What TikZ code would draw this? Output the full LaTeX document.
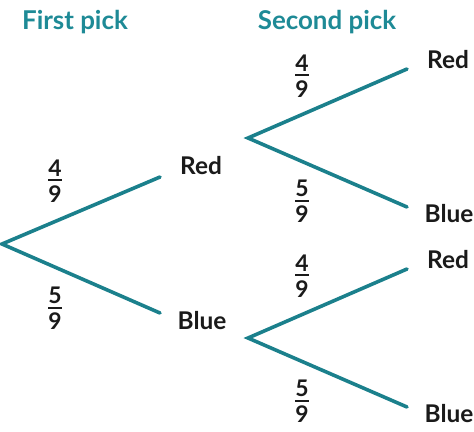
\documentclass[tikz,border=0pt]{standalone}
\usepackage{fontspec}
\setmainfont{Lato}
\definecolor{teal1}{RGB}{27,128,140}
\definecolor{teal2}{RGB}{30,138,150}
\definecolor{ink}{RGB}{26,26,26}
\newcommand\frc[2]{\vbox{\halign{\hfil##\hfil\cr #1\cr\noalign{\kern3pt\hrule height2pt\kern4pt}#2\cr}}}
\begin{document}
\begin{tikzpicture}[x=1bp,y=-1bp,
  branch/.style={draw=teal1,line width=3.6bp,line cap=round},
  lab/.style={font=\fontsize{24.5}{28}\selectfont\bfseries,text=ink,inner sep=0pt},
  frac/.style={font=\fontsize{23}{28}\selectfont\bfseries,text=ink,inner sep=0pt},
  head/.style={font=\fontsize{26}{30}\selectfont\bfseries,text=teal2,inner sep=0pt}]
\useasboundingbox (0,0) rectangle (474,431);
% headers
\node[head] (h1) at (75,22) {First pick};
\node[head] (h2) at (327,22) {Second pick};
% coordinates
\coordinate (r0) at (2,244);
\coordinate (a1) at (160,177);
\coordinate (a2) at (160,313);
\coordinate (r1) at (248,138);
\coordinate (b1) at (407,69);
\coordinate (b2) at (407,207);
\coordinate (r2) at (248,338);
\coordinate (c1) at (407,269);
\coordinate (c2) at (407,407);
% branches
\draw[branch] (a1) -- (r0) -- (a2);
\draw[branch] (b1) -- (r1) -- (b2);
\draw[branch] (c1) -- (r2) -- (c2);
% outcome labels
\node[lab] (l1) at (201,166) {Red};
\node[lab] (l2) at (202,321) {Blue};
\node[lab] (l3) at (448,60) {Red};
\node[lab] (l4) at (449,214) {Blue};
\node[lab] (l5) at (448,260) {Red};
\node[lab] (l6) at (449,414) {Blue};
% probabilities
\node[frac] (f1) at (55,181) {\frc{4}{9}};
\node[frac] (f2) at (55,308) {\frc{5}{9}};
\node[frac] (f3) at (302,76) {\frc{4}{9}};
\node[frac] (f4) at (302,201) {\frc{5}{9}};
\node[frac] (f5) at (302,276) {\frc{4}{9}};
\node[frac] (f6) at (302,401) {\frc{5}{9}};
\end{tikzpicture}
\end{document}
